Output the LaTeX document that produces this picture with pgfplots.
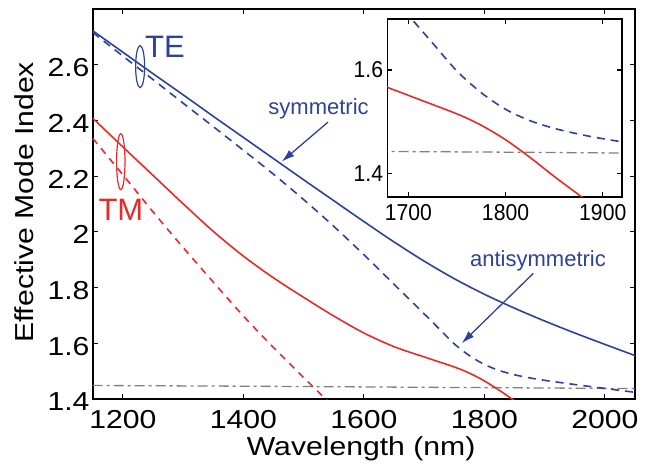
\documentclass[border=0pt]{standalone}
\usepackage{fontspec}
\setmainfont{Liberation Sans}
\newfontfamily\widefont[FakeStretch=1.16]{Liberation Sans}
\newfontfamily\narrowfont[FakeStretch=0.92]{Liberation Sans}
\usepackage{pgfplots}
\usepackage{pgfplotstable}
\pgfplotsset{compat=1.18}
\usetikzlibrary{arrows.meta}

\definecolor{teblue}{RGB}{44,66,155}
\definecolor{tmred}{RGB}{232,42,40}
\definecolor{clad}{RGB}{128,128,128}

% TE symmetric (solid)
\pgfplotstableread{
x y
1150 2.722
1200 2.645
1250 2.568
1300 2.492
1350 2.415
1400 2.339
1450 2.263
1500 2.187
1550 2.112
1600 2.037
1650 1.964
1700 1.895
1750 1.832
1800 1.776
1850 1.726
1900 1.680
1950 1.637
2000 1.596
2050 1.556
}\tesym
% TE antisymmetric (dashed)
\pgfplotstableread{
x y
1150 2.716
1200 2.631
1250 2.547
1300 2.462
1350 2.378
1400 2.293
1450 2.207
1500 2.116
1550 2.020
1600 1.918
1650 1.812
1700 1.706
1725 1.652
1750 1.598
1775 1.556
1800 1.524
1825 1.502
1850 1.487
1875 1.476
1900 1.467
1950 1.452
2000 1.438
2050 1.424
}\teanti
% TM symmetric (solid)
\pgfplotstableread{
x y
1150 2.408
1200 2.305
1250 2.203
1300 2.101
1350 2.002
1400 1.913
1450 1.835
1500 1.765
1550 1.698
1600 1.637
1650 1.588
1700 1.551
1750 1.515
1775 1.493
1800 1.465
1825 1.431
1850 1.394
1875 1.359
1900 1.325
}\tmsym
% TM antisymmetric (dashed)
\pgfplotstableread{
x y
1150 2.336
1200 2.205
1250 2.072
1300 1.944
1350 1.820
1400 1.698
1450 1.585
1500 1.477
1550 1.372
}\tmanti
% cladding index
\pgfplotstableread{
x y
1150 1.4485
1300 1.4470
1400 1.4460
1500 1.4447
1600 1.4434
1700 1.4420
1800 1.4409
1900 1.4395
2000 1.4381
2050 1.4373
}\clad

\begin{document}
\begin{tikzpicture}
\path[use as bounding box] (0,0) rectangle (652pt,464pt);

\begin{axis}[
    at={(92.7pt,65pt)}, anchor=south west,
    width=542.3pt, height=390pt, scale only axis,
    xmin=1150, xmax=2050, ymin=1.4, ymax=2.8,
    xtick={1200,1400,1600,1800,2000},
    ytick={1.4,1.6,1.8,2,2.2,2.4,2.6},
    tick align=inside, major tick length=5pt,
    axis line style={line width=1.6pt},
    tick style={black, line width=1.2pt},
    /pgf/number format/assume math mode=true,
    /pgf/number format/1000 sep={},
    ticklabel style={font=\widefont\fontsize{26}{26}\selectfont},
    xticklabel style={inner sep=0pt, anchor=north, yshift=-11pt},
    yticklabel style={inner sep=0pt, anchor=east, xshift=-3pt, yshift=-3pt},
    xlabel={Wavelength (nm)},
    ylabel={Effective Mode Index},
    label style={font=\widefont\fontsize{26}{26}\selectfont, inner sep=0pt},
    xlabel style={at={(axis description cs:0.495,-0.1445)}, anchor=base},
    ylabel style={at={(axis description cs:-0.1095,0.504)}, anchor=base},
]
\addplot[clad, line width=1.3pt, dash pattern=on 10pt off 4pt on 3pt off 4pt] table {\clad};
\addplot[teblue, line width=1.6pt, smooth] table {\tesym};
\addplot[teblue, line width=1.6pt, smooth, dash pattern=on 8pt off 6pt] table {\teanti};
\addplot[tmred, line width=1.6pt, smooth] table {\tmsym};
\addplot[tmred, line width=1.6pt, smooth, dash pattern=on 7pt off 6pt] table {\tmanti};

\draw[teblue, line width=1.2pt] (axis cs:1228.7,2.593) ellipse [x radius=4.5pt, y radius=21pt];
\draw[tmred, line width=1.2pt] (axis cs:1196.6,2.252) ellipse [x radius=4.2pt, y radius=28pt];
\node[anchor=west, inner sep=0pt, text=teblue, font=\fontsize{31}{31}\selectfont] at (axis cs:1236.8,2.665) {TE};
\node[anchor=west, inner sep=0pt, text=tmred, font=\fontsize{31}{31}\selectfont] at (axis cs:1159.3,2.0785) {TM};
\node[anchor=base west, inner sep=0pt, text=teblue, font=\fontsize{22}{22}\selectfont] at (axis cs:1441.4,2.4195) {symmetric};
\node[anchor=base west, inner sep=0pt, text=teblue, font=\fontsize{22}{22}\selectfont] at (axis cs:1776.1,1.875) {antisymmetric};
\draw[teblue, line width=1.3pt, -{Latex[length=13pt,width=8pt]}] (axis cs:1540.5,2.394) -- (axis cs:1463.6,2.252);
\draw[teblue, line width=1.3pt, -{Latex[length=13pt,width=8pt]}] (axis cs:1881.2,1.851) -- (axis cs:1762.4,1.600);
\end{axis}

\begin{axis}[
    at={(387.3pt,267.3pt)}, anchor=south west,
    width=234.4pt, height=177.7pt, scale only axis,
    axis background/.style={fill=white},
    xmin=1678.4, xmax=1919.5, ymin=1.3547, ymax=1.6987,
    xtick={1700,1800,1900},
    ytick={1.4,1.6},
    tick align=inside, major tick length=5pt,
    axis line style={line width=1.6pt},
    tick style={black, line width=1.2pt},
    /pgf/number format/assume math mode=true,
    /pgf/number format/1000 sep={},
    ticklabel style={font=\narrowfont\fontsize{23}{23}\selectfont},
    xticklabel style={inner sep=0pt, anchor=north, yshift=-8pt},
    yticklabel style={inner sep=0pt, anchor=east, xshift=-4pt},
]
\addplot[clad, line width=1.3pt, dash pattern=on 10pt off 4pt on 3pt off 4pt] table {\clad};
\addplot[teblue, line width=1.6pt, smooth, dash pattern=on 8pt off 6pt] table {\teanti};
\addplot[tmred, line width=1.6pt, smooth] table {\tmsym};
\end{axis}
\end{tikzpicture}
\end{document}
